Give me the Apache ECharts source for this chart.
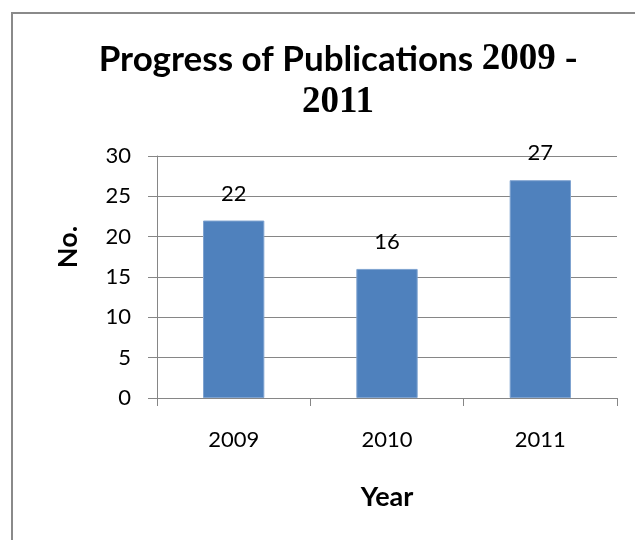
<!DOCTYPE html>
<html>
<head>
<meta charset="utf-8">
<style>
  html, body { margin: 0; padding: 0; background: #fff; }
  #chart { width: 635px; height: 540px; }
</style>
<script src="https://cdn.jsdelivr.net/npm/echarts@6/dist/echarts.min.js"></script>
</head>
<body>
<div id="chart"></div>
<script>
// Publications per year
const years = ['2009', '2010', '2011'];
const publications = [22, 16, 27];
const yTicks = { min: 0, max: 30, interval: 5 };

const sans = 'Lato, "Open Sans", sans-serif';
const serif = '"Liberation Serif", "DejaVu Serif", serif';
const axisGray = '#868686';

const chart = echarts.init(document.getElementById('chart'), null, { renderer: 'canvas' });

chart.setOption({
  backgroundColor: '#ffffff',
  animation: false,
  title: {
    text: '{s|Progress of Publications }{n|2009 -}\n{n|2011}',
    left: 333,
    top: 33,
    textAlign: 'center',
    textStyle: {
      rich: {
        s: { fontFamily: sans, fontWeight: 'bold', fontSize: 35, color: '#000', lineHeight: 43 },
        n: { fontFamily: serif, fontWeight: 'bold', fontSize: 37, color: '#000', lineHeight: 43 }
      }
    }
  },
  graphic: [
    // frame lines on the top and left
    { type: 'line', shape: { x1: 11, y1: 13, x2: 635, y2: 13 }, style: { stroke: '#8a8a8a', lineWidth: 2 } },
    { type: 'line', shape: { x1: 12, y1: 13, x2: 12, y2: 540 }, style: { stroke: '#8a8a8a', lineWidth: 2 } },
    {
      type: 'text',
      x: 68, y: 247,
      rotation: Math.PI / 2,
      style: {
        text: 'No.',
        fontFamily: sans, fontWeight: 'bold', fontSize: 27, fill: '#000',
        align: 'center', verticalAlign: 'middle'
      }
    }
  ],
  grid: { left: 157, right: 18, top: 156, bottom: 142 },
  xAxis: {
    type: 'category',
    data: years,
    name: 'Year',
    nameLocation: 'middle',
    nameGap: 86,
    nameTextStyle: { fontFamily: sans, fontWeight: 'bold', fontSize: 27, color: '#000' },
    axisLine: { lineStyle: { color: axisGray, width: 1 } },
    axisTick: { show: true, alignWithLabel: false, length: 8, lineStyle: { color: axisGray } },
    axisLabel: { fontFamily: sans, fontSize: 22, color: '#000', margin: 31 }
  },
  yAxis: {
    type: 'value',
    min: yTicks.min,
    max: yTicks.max,
    interval: yTicks.interval,
    axisLine: { show: true, lineStyle: { color: axisGray, width: 1 } },
    axisTick: { show: true, length: 9, lineStyle: { color: axisGray } },
    splitLine: { show: true, lineStyle: { color: axisGray, width: 1 } },
    axisLabel: { fontFamily: sans, fontSize: 22, color: '#000', margin: 26 }
  },
  series: [{
    type: 'bar',
    data: publications,
    barCategoryGap: '60%',
    itemStyle: { color: '#4F81BD', borderColor: '#7FA3D0', borderWidth: 1 },
    label: {
      show: true,
      position: 'top',
      distance: 16,
      fontFamily: sans,
      fontSize: 22,
      color: '#000'
    }
  }]
});
</script>
</body>
</html>
